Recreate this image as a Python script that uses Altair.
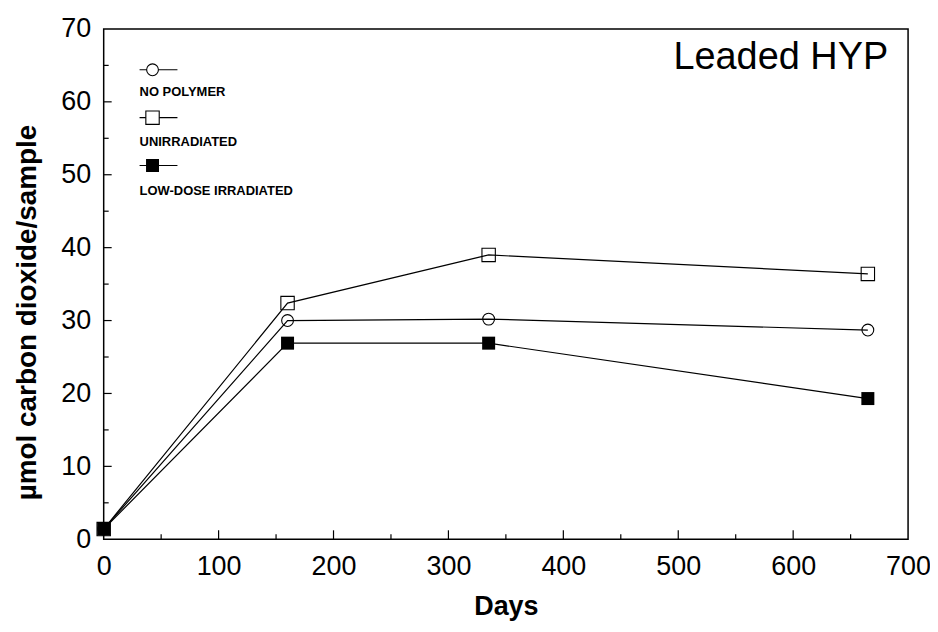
import altair as alt
import pandas as pd

# ---- data ----
days = [0, 160, 335, 665]
no_polymer = [1.4, 30.0, 30.2, 28.7]
unirradiated = [1.4, 32.4, 39.0, 36.4]
low_dose = [1.4, 26.9, 26.9, 19.3]
series_names = ["NO POLYMER", "UNIRRADIATED", "LOW-DOSE IRRADIATED"]
chart_title = "Leaded HYP"
x_ticks = [0, 100, 200, 300, 400, 500, 600, 700]
y_ticks = [0, 10, 20, 30, 40, 50, 60, 70]
x_major_inner = [100, 200, 300, 400, 500, 600]
x_minor_inner = [50, 150, 250, 350, 450, 550, 650]
y_major_inner = [10, 20, 30, 40, 50, 60]
y_minor_inner = [5, 15, 25, 35, 45, 55, 65]

FONT = "Liberation Sans"
W, H = 807, 512

series_values = [no_polymer, unirradiated, low_dose]
rows = []
for name, vals in zip(series_names, series_values):
    for d, v in zip(days, vals):
        rows.append({"series": name, "days": d, "value": v})
df = pd.DataFrame(rows)

styles = {
    "NO POLYMER": dict(shape="circle", filled=False, size=140),
    "UNIRRADIATED": dict(shape="square", filled=False, size=180),
    "LOW-DOSE IRRADIATED": dict(shape="square", filled=True, size=170),
}

xscale = alt.Scale(domain=[0, 700], nice=False, zero=False)
yscale = alt.Scale(domain=[0, 70], nice=False, zero=False)

xaxis = alt.Axis(values=x_ticks, labelFontSize=27, labelFont=FONT, labelColor="black",
                 labelPadding=14, ticks=False, domain=False, grid=False,
                 title="Days", titleFont=FONT, titleFontSize=27, titleFontWeight="bold",
                 titleColor="black", titleBaseline="alphabetic", titleY=75,
                 labelFlush=False, labelOverlap=False)
yaxis = alt.Axis(values=y_ticks, labelFontSize=27, labelFont=FONT, labelColor="black",
                 labelPadding=13, ticks=False, domain=False, grid=False,
                 title="µmol carbon dioxide/sample", titleFont=FONT, titleFontSize=28,
                 titleFontWeight="bold", titleColor="black", titleBaseline="alphabetic",
                 titleX=-68, titleY=284, titleAngle=-90, titleAlign="center",
                 labelFlush=False, labelOverlap=False)

base = alt.Chart(df)
lines = base.mark_line(color="black", strokeWidth=1.2).encode(
    x=alt.X("days:Q", scale=xscale, axis=xaxis),
    y=alt.Y("value:Q", scale=yscale, axis=yaxis),
    detail="series:N",
)

layers = [lines]
for name in series_names:
    st = styles[name]
    layers.append(
        alt.Chart(df[df.series == name]).mark_point(
            shape=st["shape"], filled=st["filled"], size=st["size"],
            color="black", strokeWidth=1.1, opacity=1,
        ).encode(x="days:Q", y="value:Q")
    )

# inner ticks
def tick_df(vals):
    return pd.DataFrame({"v": vals})

layers.append(alt.Chart(tick_df(x_major_inner)).mark_rule(color="black", strokeWidth=1.2).encode(
    x="v:Q", y=alt.value(H), y2=alt.value(H - 9)))
layers.append(alt.Chart(tick_df(x_minor_inner)).mark_rule(color="black", strokeWidth=1.2).encode(
    x="v:Q", y=alt.value(H), y2=alt.value(H - 5)))
layers.append(alt.Chart(tick_df(y_major_inner)).mark_rule(color="black", strokeWidth=1.2).encode(
    y="v:Q", x=alt.value(0), x2=alt.value(8)))
layers.append(alt.Chart(tick_df(y_minor_inner)).mark_rule(color="black", strokeWidth=1.2).encode(
    y="v:Q", x=alt.value(0), x2=alt.value(5)))

# title inside the plot
layers.append(alt.Chart(pd.DataFrame({"t": [chart_title]})).mark_text(
    align="right", baseline="alphabetic", fontSize=38, font=FONT, color="black"
).encode(x=alt.value(787), y=alt.value(40), text="t:N"))

# legend (top-left, inside)
sym_y = [41, 89, 137]
txt_y = [67, 117, 167]
for i, name in enumerate(series_names):
    st = styles[name]
    one = pd.DataFrame({"t": [name]})
    layers.append(alt.Chart(one).mark_rule(color="black", strokeWidth=1.1).encode(
        x=alt.value(36), x2=alt.value(74), y=alt.value(sym_y[i])))
    layers.append(alt.Chart(one).mark_point(
        shape=st["shape"], filled=st["filled"], size=st["size"],
        color="black", strokeWidth=1.1, opacity=1,
        fill="white" if not st["filled"] else "black",
    ).encode(x=alt.value(49), y=alt.value(sym_y[i])))
    layers.append(alt.Chart(one).mark_text(
        align="left", baseline="alphabetic", fontSize=13, fontWeight="bold",
        font=FONT, color="black"
    ).encode(x=alt.value(36), y=alt.value(txt_y[i]), text="t:N"))

chart = alt.layer(*layers).properties(
    width=W, height=H,
    autosize=alt.AutoSizeParams(type="none"),
    padding={"left": 96, "top": 20, "right": 22, "bottom": 82},
    background="white",
).configure_view(stroke="black", strokeWidth=1.5)

chart.save("out.html", embed_options={"renderer": "svg", "actions": False})
